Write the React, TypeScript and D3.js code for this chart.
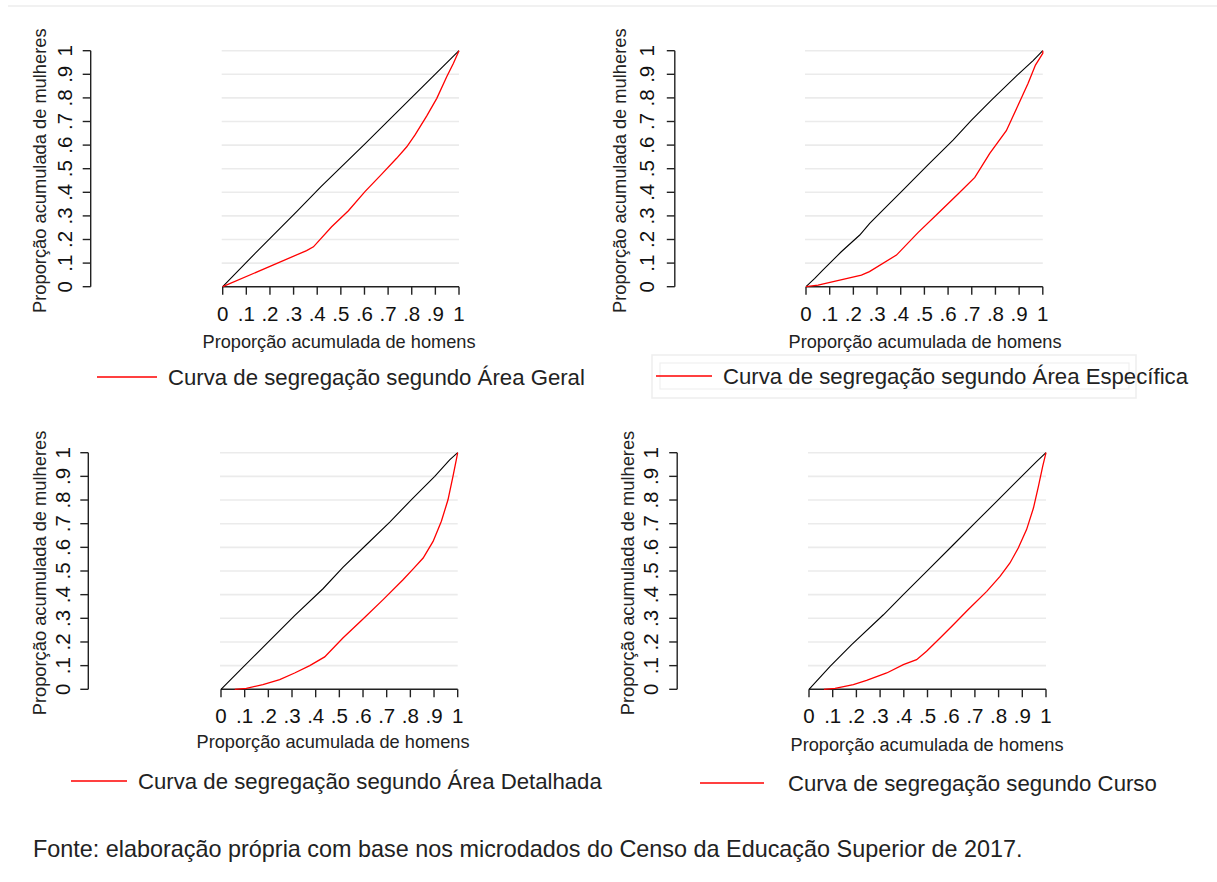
import React from "react";
import * as d3 from "d3";

// Tick values shared by both axes
const tickValues = [0, 0.1, 0.2, 0.3, 0.4, 0.5, 0.6, 0.7, 0.8, 0.9, 1];
const tickLabels = ["0", ".1", ".2", ".3", ".4", ".5", ".6", ".7", ".8", ".9", "1"];

// Cumulative proportion of men (x) and women (y) — Área Geral
const geralRedX = [0, 0.355, 0.384, 0.461, 0.532, 0.602, 0.673, 0.736, 0.779, 0.814, 0.863, 0.906, 0.948, 0.976, 1];
const geralRedY = [0, 0.153, 0.169, 0.254, 0.322, 0.403, 0.477, 0.544, 0.593, 0.643, 0.723, 0.798, 0.89, 0.946, 1];
const geralBlackX = [0, 0.13, 0.313, 0.416, 0.602, 1];
const geralBlackY = [0, 0.134, 0.318, 0.424, 0.605, 1];

// Área Específica
const especificaRedX = [0, 0.051, 0.234, 0.268, 0.382, 0.473, 0.558, 0.642, 0.713, 0.776, 0.846, 0.896, 0.938, 0.969, 1, 1];
const especificaRedY = [0, 0.007, 0.049, 0.064, 0.134, 0.229, 0.311, 0.393, 0.463, 0.565, 0.661, 0.77, 0.862, 0.939, 0.989, 1];
const especificaBlackX = [0, 0.037, 0.072, 0.149, 0.227, 0.269, 0.332, 0.403, 0.515, 0.621, 0.699, 0.783, 0.889, 0.959, 1];
const especificaBlackY = [0, 0.035, 0.071, 0.148, 0.219, 0.268, 0.332, 0.403, 0.516, 0.621, 0.706, 0.791, 0.893, 0.958, 1];

// Área Detalhada
const detalhadaRedX = [0.058, 0.107, 0.177, 0.248, 0.311, 0.375, 0.438, 0.515, 0.6, 0.685, 0.769, 0.811, 0.854, 0.896, 0.931, 0.959, 0.98, 0.994, 1];
const detalhadaRedY = [0, 0.004, 0.02, 0.041, 0.069, 0.1, 0.137, 0.217, 0.297, 0.379, 0.463, 0.508, 0.555, 0.625, 0.71, 0.801, 0.9, 0.97, 1];
const detalhadaBlackX = [0, 0.086, 0.177, 0.311, 0.431, 0.515, 0.614, 0.713, 0.811, 0.903, 0.966, 1];
const detalhadaBlackY = [0, 0.086, 0.177, 0.311, 0.425, 0.515, 0.611, 0.707, 0.808, 0.9, 0.97, 1];

// Curso
const cursoRedX = [0.063, 0.11, 0.187, 0.243, 0.328, 0.398, 0.454, 0.496, 0.553, 0.609, 0.672, 0.75, 0.806, 0.848, 0.883, 0.918, 0.947, 0.968, 0.986, 1];
const cursoRedY = [0, 0.004, 0.02, 0.038, 0.069, 0.104, 0.125, 0.161, 0.217, 0.273, 0.337, 0.414, 0.477, 0.534, 0.597, 0.675, 0.766, 0.858, 0.942, 1];
const cursoBlackX = [0, 0.089, 0.18, 0.314, 0.398, 0.504, 0.609, 0.707, 0.792, 0.89, 0.961, 1];
const cursoBlackY = [0, 0.097, 0.189, 0.315, 0.4, 0.506, 0.611, 0.71, 0.794, 0.893, 0.963, 1];

const legendLabels = [
  "Curva de segregação segundo Área Geral",
  "Curva de segregação segundo Área Específica",
  "Curva de segregação segundo Área Detalhada",
  "Curva de segregação segundo Curso",
];

const xTitle = "Proporção acumulada de homens";
const yTitle = "Proporção acumulada de mulheres";
const sourceNote = "Fonte: elaboração própria com base nos microdados do Censo da Educação Superior de 2017.";

const FONT = "'Liberation Sans', Arial, Helvetica, sans-serif";

const zip = (xs: number[], ys: number[]) => xs.map((x, i) => [x, ys[i]] as [number, number]);

type Layout = {
  axisX: number;
  x0: number;
  x1: number;
  top: number;
  bottom: number;
  yTitleX: number;
  yLabelX: number;
  xLabelY: number;
  xTitleX: number;
  xTitleY: number;
  legLine: [number, number];
  legY: number;
  legTextX: number;
  legBaseline: number;
  box?: boolean;
};

const layouts: Layout[] = [
  { axisX: 90.7, x0: 222.7, x1: 459, top: 50.7, bottom: 286.7, yTitleX: 46, yLabelX: 72, xLabelY: 321, xTitleX: 339, xTitleY: 348, legLine: [97, 157], legY: 377, legTextX: 168, legBaseline: 385 },
  { axisX: 674.8, x0: 806, x1: 1042.8, top: 50.7, bottom: 286.7, yTitleX: 626, yLabelX: 654, xLabelY: 321, xTitleX: 925, xTitleY: 348, legLine: [656, 712], legY: 376, legTextX: 723, legBaseline: 384, box: true },
  { axisX: 88.3, x0: 221, x1: 457.7, top: 452.7, bottom: 689.3, yTitleX: 46, yLabelX: 70, xLabelY: 723, xTitleX: 333, xTitleY: 748, legLine: [71, 127], legY: 781, legTextX: 138, legBaseline: 789 },
  { axisX: 677.2, x0: 809, x1: 1046, top: 452.7, bottom: 689.3, yTitleX: 634, yLabelX: 658, xLabelY: 723, xTitleX: 927, xTitleY: 751, legLine: [700, 764], legY: 783, legTextX: 788, legBaseline: 791 },
];

const series = [
  { red: zip(geralRedX, geralRedY), black: zip(geralBlackX, geralBlackY) },
  { red: zip(especificaRedX, especificaRedY), black: zip(especificaBlackX, especificaBlackY) },
  { red: zip(detalhadaRedX, detalhadaRedY), black: zip(detalhadaBlackX, detalhadaBlackY) },
  { red: zip(cursoRedX, cursoRedY), black: zip(cursoBlackX, cursoBlackY) },
];

function Panel({ L, red, black, label }: { L: Layout; red: [number, number][]; black: [number, number][]; label: string }) {
  const x = d3.scaleLinear().domain([0, 1]).range([L.x0, L.x1]);
  const y = d3.scaleLinear().domain([0, 1]).range([L.bottom, L.top]);
  const line = d3
    .line<[number, number]>()
    .x((d) => x(d[0]))
    .y((d) => y(d[1]));
  const yMid = (L.top + L.bottom) / 2 + 2;
  return (
    <g>
      {/* horizontal grid */}
      {tickValues
        .filter((t) => t > 0)
        .map((t) => (
          <line key={"g" + t} x1={x(0) - 1} x2={x(1)} y1={y(t)} y2={y(t)} stroke="#ebebeb" strokeWidth={1.6} />
        ))}
      {/* y axis */}
      <line x1={L.axisX} x2={L.axisX} y1={y(1)} y2={y(0)} stroke="#222" strokeWidth={1.4} />
      {tickValues.map((t, i) => (
        <g key={"yt" + t}>
          <line x1={L.axisX - 8} x2={L.axisX} y1={y(t)} y2={y(t)} stroke="#222" strokeWidth={1.4} />
          <text
            x={L.yLabelX}
            y={y(t)}
            transform={`rotate(-90, ${L.yLabelX}, ${y(t)})`}
            textAnchor="middle"
            fontSize={20.5}
            fontFamily={FONT}
            fill="#111"
          >
            {tickLabels[i]}
          </text>
        </g>
      ))}
      <text
        x={L.yTitleX}
        y={yMid}
        transform={`rotate(-90, ${L.yTitleX}, ${yMid})`}
        textAnchor="middle"
        fontSize={18.3}
        fontFamily={FONT}
        fill="#222"
      >
        {yTitle}
      </text>
      {/* x axis */}
      <line x1={x(0)} x2={x(1)} y1={L.bottom} y2={L.bottom} stroke="#222" strokeWidth={1.4} />
      {tickValues.map((t, i) => (
        <g key={"xt" + t}>
          <line x1={x(t)} x2={x(t)} y1={L.bottom} y2={L.bottom + 8} stroke="#222" strokeWidth={1.4} />
          <text x={x(t)} y={L.xLabelY} textAnchor="middle" fontSize={20.5} fontFamily={FONT} fill="#111">
            {tickLabels[i]}
          </text>
        </g>
      ))}
      <text x={L.xTitleX} y={L.xTitleY} textAnchor="middle" fontSize={18.2} fontFamily={FONT} fill="#222">
        {xTitle}
      </text>
      {/* curves */}
      <path d={line(black) || ""} fill="none" stroke="#000" strokeWidth={1.1} />
      <path d={line(red) || ""} fill="none" stroke="#ff0000" strokeWidth={1.3} />
      {/* legend */}
      {L.box && (
        <g>
          <rect x={652} y={355} width={484} height={43} fill="none" stroke="#eeeeee" strokeWidth={1.5} />
          <rect x={660} y={363} width={469} height={26} fill="none" stroke="#f0f0f0" strokeWidth={1.2} />
        </g>
      )}
      <line x1={L.legLine[0]} x2={L.legLine[1]} y1={L.legY} y2={L.legY} stroke="#ff0000" strokeWidth={1.5} />
      <text x={L.legTextX} y={L.legBaseline} fontSize={22.2} fontFamily={FONT} fill="#222">
        {label}
      </text>
    </g>
  );
}

export default function App() {
  return (
    <svg
      width={1217}
      height={882}
      viewBox="0 0 1217 882"
      style={{ position: "absolute", left: 0, top: 0, background: "#fff" }}
    >
      <rect x={0} y={0} width={1217} height={882} fill="#fff" />
      <line x1={8} x2={1217} y1={6} y2={6} stroke="#ececec" strokeWidth={1.5} />
      {layouts.map((L, i) => (
        <Panel key={i} L={L} red={series[i].red} black={series[i].black} label={legendLabels[i]} />
      ))}
      <text x={33} y={857} fontSize={23.4} fontFamily={FONT} fill="#222">
        {sourceNote}
      </text>
    </svg>
  );
}
